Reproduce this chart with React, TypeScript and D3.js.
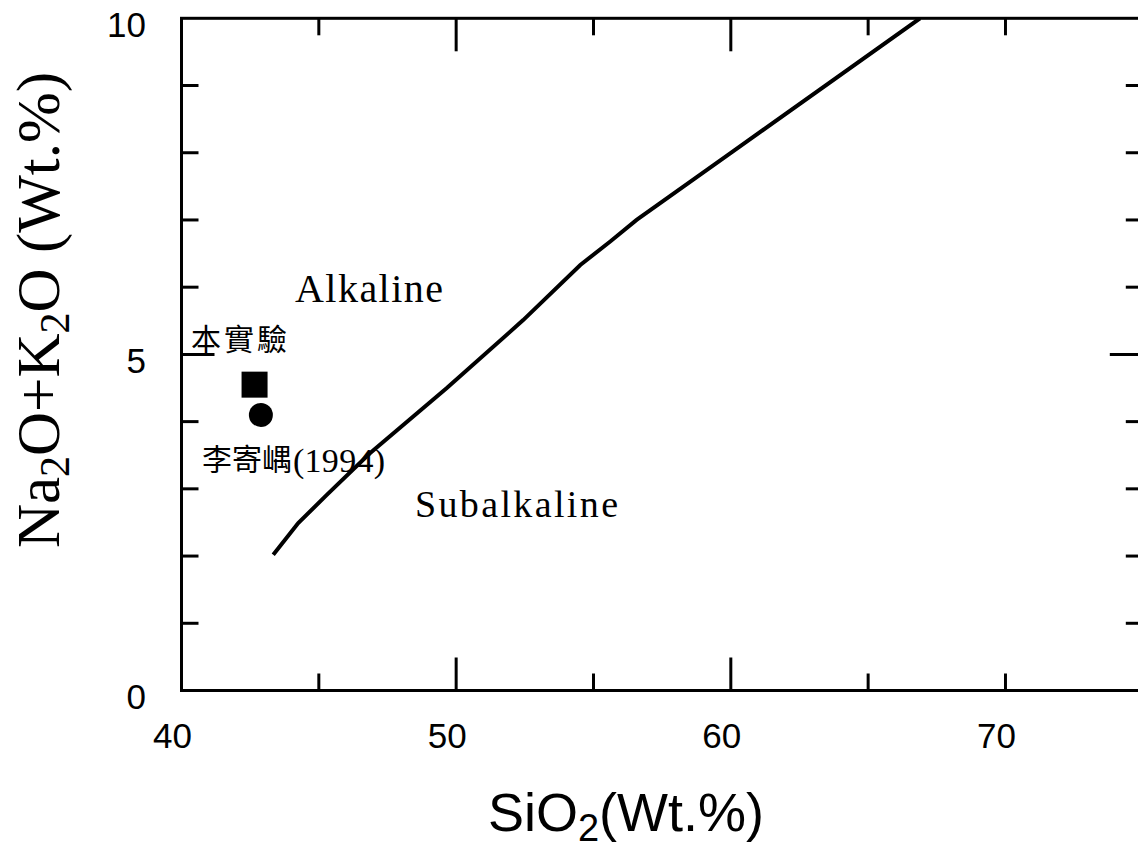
import React from "react";
import * as d3 from "d3";

// ---- data ----
const boundarySiO2 = [43.34, 44.25, 45.29, 46.86, 49.66, 52.44, 54.52, 55.61, 56.57, 60.04, 66.89];
const boundaryAlk = [2.02, 2.49, 2.91, 3.53, 4.5, 5.51, 6.33, 6.68, 7.0, 8.01, 10.0];
const thisStudy = { sio2: 42.66, alk: 4.55, label: "本實驗" };
const liStudy = { sio2: 42.89, alk: 4.1, label: "李寄嵎", year: "(1994)" };
const xTickLabels = [40, 50, 60, 70];
const yTickLabels = [0, 5, 10];
const xMajorTicks = [50, 60];
const xMinorTicks = [45, 55, 65, 70];
const yMajorTicks = [5];
const yMinorTicks = [1, 2, 3, 4, 6, 7, 8, 9];

const W = 1138;
const H = 851;
const x = d3.scaleLinear().domain([40, 75]).range([181.5, 1142.8]);
const y = d3.scaleLinear().domain([0, 10]).range([690.5, 18.3]);

const SERIF = "'Liberation Serif', 'Times New Roman', serif";
const SANS = "'Liberation Sans', Arial, sans-serif";
const CJK = "'Noto Sans CJK TC', 'Noto Sans CJK SC', sans-serif";

export default function App() {
  const pts = boundarySiO2.map((s, i) => [s, boundaryAlk[i]] as [number, number]);
  const line = d3
    .line<[number, number]>()
    .x((d) => x(d[0]))
    .y((d) => y(d[1]));
  const x0 = x(40), x1 = x(75), y0 = y(0), y1 = y(10);
  const minor = 17, major = 33;
  const sw = 3;
  return (
    <svg
      width={W}
      height={H}
      style={{ position: "absolute", left: 0, top: 0, background: "#fff" }}
    >
      <defs>
        <clipPath id="plot">
          <rect x={x0} y={y1} width={x1 - x0} height={y0 - y1} />
        </clipPath>
      </defs>
      {/* frame */}
      <rect x={x0} y={y1} width={x1 - x0} height={y0 - y1} fill="none" stroke="#000" strokeWidth={sw} />
      {/* x ticks bottom and top */}
      {xMinorTicks.map((t) => (
        <g key={"xm" + t}>
          <line x1={x(t)} x2={x(t)} y1={y0} y2={y0 - minor} stroke="#000" strokeWidth={sw} />
          <line x1={x(t)} x2={x(t)} y1={y1} y2={y1 + minor} stroke="#000" strokeWidth={sw} />
        </g>
      ))}
      {xMajorTicks.map((t) => (
        <g key={"xM" + t}>
          <line x1={x(t)} x2={x(t)} y1={y0} y2={y0 - major} stroke="#000" strokeWidth={sw} />
          <line x1={x(t)} x2={x(t)} y1={y1} y2={y1 + major} stroke="#000" strokeWidth={sw} />
        </g>
      ))}
      {/* y ticks left and right */}
      {yMinorTicks.map((t) => (
        <g key={"ym" + t}>
          <line x1={x0} x2={x0 + minor} y1={y(t)} y2={y(t)} stroke="#000" strokeWidth={sw} />
          <line x1={x1} x2={x1 - minor} y1={y(t)} y2={y(t)} stroke="#000" strokeWidth={sw} />
        </g>
      ))}
      {yMajorTicks.map((t) => (
        <g key={"yM" + t}>
          <line x1={x0} x2={x0 + major} y1={y(t)} y2={y(t)} stroke="#000" strokeWidth={sw} />
          <line x1={x1} x2={x1 - major} y1={y(t)} y2={y(t)} stroke="#000" strokeWidth={sw} />
        </g>
      ))}
      {/* tick labels */}
      {xTickLabels.map((t) => (
        <text key={"xl" + t} x={x(t) - 9} y={y0 + 57.5} textAnchor="middle" fontFamily={SANS} fontSize={35}>
          {t}
        </text>
      ))}
      {yTickLabels.map((t) => (
        <text key={"yl" + t} x={146} y={y(t) + 18.7} textAnchor="end" fontFamily={SANS} fontSize={35}>
          {t}
        </text>
      ))}
      {/* boundary line */}
      <path d={line(pts) || ""} fill="none" stroke="#000" strokeWidth={4} clipPath="url(#plot)" />
      {/* data points */}
      <rect x={x(thisStudy.sio2) - 13} y={y(thisStudy.alk) - 13} width={26} height={26} fill="#000" />
      <circle cx={x(liStudy.sio2)} cy={y(liStudy.alk)} r={12} fill="#000" />
      {/* labels */}
      <text x={295} y={301.5} fontFamily={SERIF} fontSize={40} textLength={148} lengthAdjust="spacing">
        Alkaline
      </text>
      <text x={415} y={517} fontFamily={SERIF} fontSize={38} textLength={203} lengthAdjust="spacing">
        Subalkaline
      </text>
      <text x={191} y={350} fontFamily={CJK} fontSize={30} textLength={96} lengthAdjust="spacing">
        {thisStudy.label}
      </text>
      <text x={202} y={470} fontFamily={CJK} fontSize={30} textLength={90} lengthAdjust="spacing">
        {liStudy.label}
      </text>
      <text x={293} y={472} fontFamily={SERIF} fontSize={34} textLength={92} lengthAdjust="spacing">
        {liStudy.year}
      </text>
      {/* axis titles */}
      <text transform="translate(59,310) rotate(-90)" textAnchor="middle" fontFamily={SERIF} fontSize={61}>
        Na<tspan fontSize={42} dy={10}>2</tspan>
        <tspan dy={-10}>O+K</tspan>
        <tspan fontSize={42} dy={10}>2</tspan>
        <tspan dy={-10}>O (Wt.%)</tspan>
      </text>
      <text x={626} y={831} textAnchor="middle" fontFamily={SANS} fontSize={54}>
        SiO<tspan fontSize={38} dy={10}>2</tspan>
        <tspan dy={-10}>(Wt.%)</tspan>
      </text>
    </svg>
  );
}
